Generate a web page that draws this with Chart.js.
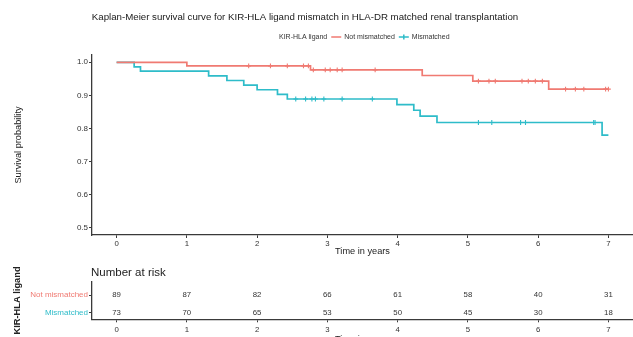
<!DOCTYPE html>
<html><head><meta charset="utf-8">
<script src="https://cdn.jsdelivr.net/npm/chart.js@4"></script>
<style>
html,body{margin:0;padding:0;background:#fff;width:633px;height:337px;overflow:hidden}
canvas{position:absolute;left:0}
#c1{top:0}
#c2{top:262px}
</style></head><body>
<canvas id="c1" width="633" height="262"></canvas>
<canvas id="c2" width="633" height="75"></canvas>
<script>
// ---- data ----
const titleText = "Kaplan-Meier survival curve for KIR-HLA ligand mismatch in HLA-DR matched renal transplantation";
const legendTitle = "KIR-HLA ligand";
const groups = ["Not mismatched", "Mismatched"];
const colors = ["#F07A72", "#2EBCC9"];
const xTicks = [0, 1, 2, 3, 4, 5, 6, 7];
const yTicks = [0.5, 0.6, 0.7, 0.8, 0.9, 1.0];
const notMisTimes = [0, 1.00, 2.76, 4.35, 5.07, 6.15, 7.00];
const notMisSurv  = [1.000, 0.989, 0.977, 0.960, 0.943, 0.919, 0.919];
const misTimes = [0, 0.25, 0.34, 1.31, 1.57, 1.81, 2.00, 2.29, 2.43, 3.99, 4.23, 4.32, 4.56, 6.91, 7.00];
const misSurv  = [1.000, 0.986, 0.973, 0.959, 0.945, 0.931, 0.917, 0.903, 0.889, 0.872, 0.855, 0.837, 0.818, 0.780, 0.780];
const notMisCensor = [1.88, 2.19, 2.43, 2.66, 2.73, 2.80, 2.97, 3.04, 3.14, 3.21, 3.68, 5.15, 5.30, 5.39, 5.77, 5.86, 5.96, 6.06, 6.39, 6.53, 6.65, 6.96, 7.00];
const misCensor = [2.55, 2.69, 2.78, 2.83, 2.95, 3.21, 3.64, 5.15, 5.34, 5.75, 5.82, 6.79, 6.81];
const riskNotMis = [89, 87, 82, 66, 61, 58, 40, 31];
const riskMis    = [73, 70, 65, 53, 50, 45, 30, 18];

const FONT = "'Liberation Sans', Arial, sans-serif";
const AXC = '#3a3a3a';

function pts(ts, ss) { return ts.map((t, i) => ({ x: t, y: ss[i] })); }
function survAt(ts, ss, t) { let v = ss[0]; for (let i = 0; i < ts.length; i++) if (ts[i] <= t) v = ss[i]; return v; }
function censorPts(cs, ts, ss) { return cs.map(t => ({ x: t, y: survAt(ts, ss, t) })); }

function xScale(tickPad) {
  return {
    type: 'linear', min: -0.35, max: 7.35,
    afterBuildTicks: s => { s.ticks = xTicks.map(v => ({ value: v })); },
    ticks: { font: { family: FONT, size: 7.8 }, color: '#333', padding: tickPad, maxRotation: 0, callback: v => String(v) },
    grid: { display: true, drawOnChartArea: false, tickLength: 3, color: AXC, lineWidth: 1 },
    border: { display: true, color: AXC, width: 1.3 }
  };
}

// ---- main chart ----
const topPlugin = {
  id: 'topText',
  afterDraw(chart) {
    const c = chart.ctx;
    c.save();
    c.fillStyle = '#1a1a1a';
    c.font = `9.7px ${FONT}`;
    c.textAlign = 'center'; c.textBaseline = 'middle';
    c.fillText(titleText, 305, 17);
    // legend
    c.font = `7px ${FONT}`;
    c.textAlign = 'left';
    let x = 279; const y = 37;
    c.fillStyle = '#333';
    c.fillText(legendTitle, x, y); x += c.measureText(legendTitle).width + 4;
    groups.forEach((g, i) => {
      c.strokeStyle = colors[i]; c.lineWidth = 1.5;
      c.beginPath(); c.moveTo(x, y); c.lineTo(x + 10, y); c.stroke();
      if (i === 1) { c.beginPath(); c.moveTo(x + 5, y - 2.5); c.lineTo(x + 5, y + 2.5); c.stroke(); }
      x += 13;
      c.fillStyle = '#333';
      c.fillText(g, x, y); x += c.measureText(g).width + 4;
    });
    c.restore();
  }
};

new Chart(document.getElementById('c1'), {
  type: 'line',
  data: {
    datasets: [
      { label: groups[0], data: pts(notMisTimes, notMisSurv), borderColor: colors[0], borderWidth: 1.7, stepped: true, pointRadius: 0, fill: false },
      { label: groups[1], data: pts(misTimes, misSurv), borderColor: colors[1], borderWidth: 1.7, stepped: true, pointRadius: 0, fill: false },
      { type: 'scatter', label: 'c0', data: censorPts(notMisCensor, notMisTimes, notMisSurv), borderColor: colors[0], backgroundColor: colors[0], pointStyle: 'cross', pointRadius: 2.4, borderWidth: 1.1, showLine: false },
      { type: 'scatter', label: 'c1', data: censorPts(misCensor, misTimes, misSurv), borderColor: colors[1], backgroundColor: colors[1], pointStyle: 'cross', pointRadius: 2.4, borderWidth: 1.1, showLine: false }
    ]
  },
  options: {
    animation: false, responsive: false, devicePixelRatio: 1,
    layout: { autoPadding: false, padding: { top: 55, right: 0, left: 0, bottom: 0 } },
    plugins: { legend: { display: false }, title: { display: false }, tooltip: { enabled: false } },
    scales: {
      x: Object.assign(xScale(1), {
        title: { display: true, text: 'Time in years', font: { family: FONT, size: 9.2 }, color: '#222', padding: { top: 0, bottom: 5 } },
        afterFit: s => { s.height = 27; }
      }),
      y: {
        type: 'linear', min: 0.478, max: 1.022,
        afterBuildTicks: s => { s.ticks = yTicks.map(v => ({ value: v })); },
        ticks: { font: { family: FONT, size: 8 }, color: '#333', padding: 1, callback: v => Number(v).toFixed(1) },
        grid: { display: true, drawOnChartArea: false, tickLength: 3, color: AXC, lineWidth: 1 },
        border: { display: true, color: AXC, width: 1.3 },
        title: { display: true, text: 'Survival probability', font: { family: FONT, size: 9.2 }, color: '#222', padding: { top: 13, bottom: 0 } },
        afterFit: s => { s.width = 92; }
      }
    }
  },
  plugins: [topPlugin]
});

// ---- risk table ----
const riskPlugin = {
  id: 'riskText',
  afterDraw(chart) {
    const c = chart.ctx;
    c.save();
    c.fillStyle = '#222';
    c.font = `11.5px ${FONT}`;
    c.textAlign = 'left'; c.textBaseline = 'middle';
    c.fillText('Number at risk', chart.chartArea.left - 1, 11);
    c.font = `7.8px ${FONT}`;
    c.textAlign = 'center';
    c.fillStyle = '#333';
    [0, 1].forEach(di => {
      const meta = chart.getDatasetMeta(di);
      const vals = di === 0 ? riskNotMis : riskMis;
      meta.data.forEach((p, i) => c.fillText(String(vals[i]), p.x, p.y));
    });
    c.font = `9.2px ${FONT}`;
    c.fillStyle = '#222';
    c.fillText('Time in years', (chart.chartArea.left + chart.chartArea.right) / 2, 77.5);
    c.restore();
  }
};

new Chart(document.getElementById('c2'), {
  type: 'scatter',
  data: {
    datasets: [
      { label: groups[0], data: xTicks.map(t => ({ x: t, y: 1 })), pointRadius: 0 },
      { label: groups[1], data: xTicks.map(t => ({ x: t, y: 0 })), pointRadius: 0 }
    ]
  },
  options: {
    animation: false, responsive: false, devicePixelRatio: 1,
    layout: { autoPadding: false, padding: { top: 19.7, right: 0, left: 0, bottom: 0 } },
    plugins: { legend: { display: false }, title: { display: false }, tooltip: { enabled: false } },
    scales: {
      x: Object.assign(xScale(3), {
        title: { display: false },
        afterFit: s => { s.height = 17.7; }
      }),
      y: {
        type: 'linear', min: -0.37, max: 1.75,
        afterBuildTicks: s => { s.ticks = [1, 0].map(v => ({ value: v })); },
        ticks: { font: { family: FONT, size: 8 }, padding: 1,
                 color: ctx => ctx.tick && ctx.tick.value === 1 ? colors[0] : colors[1],
                 callback: v => v === 1 ? groups[0] : groups[1] },
        grid: { display: true, drawOnChartArea: false, tickLength: 3, color: AXC, lineWidth: 1 },
        border: { display: true, color: AXC, width: 1.3 },
        title: { display: true, text: legendTitle, font: { family: FONT, size: 9.3, weight: 'bold' }, color: '#222', padding: { top: 12, bottom: 0 } },
        afterFit: s => { s.width = 92; }
      }
    }
  },
  plugins: [riskPlugin]
});
</script>
</body></html>
